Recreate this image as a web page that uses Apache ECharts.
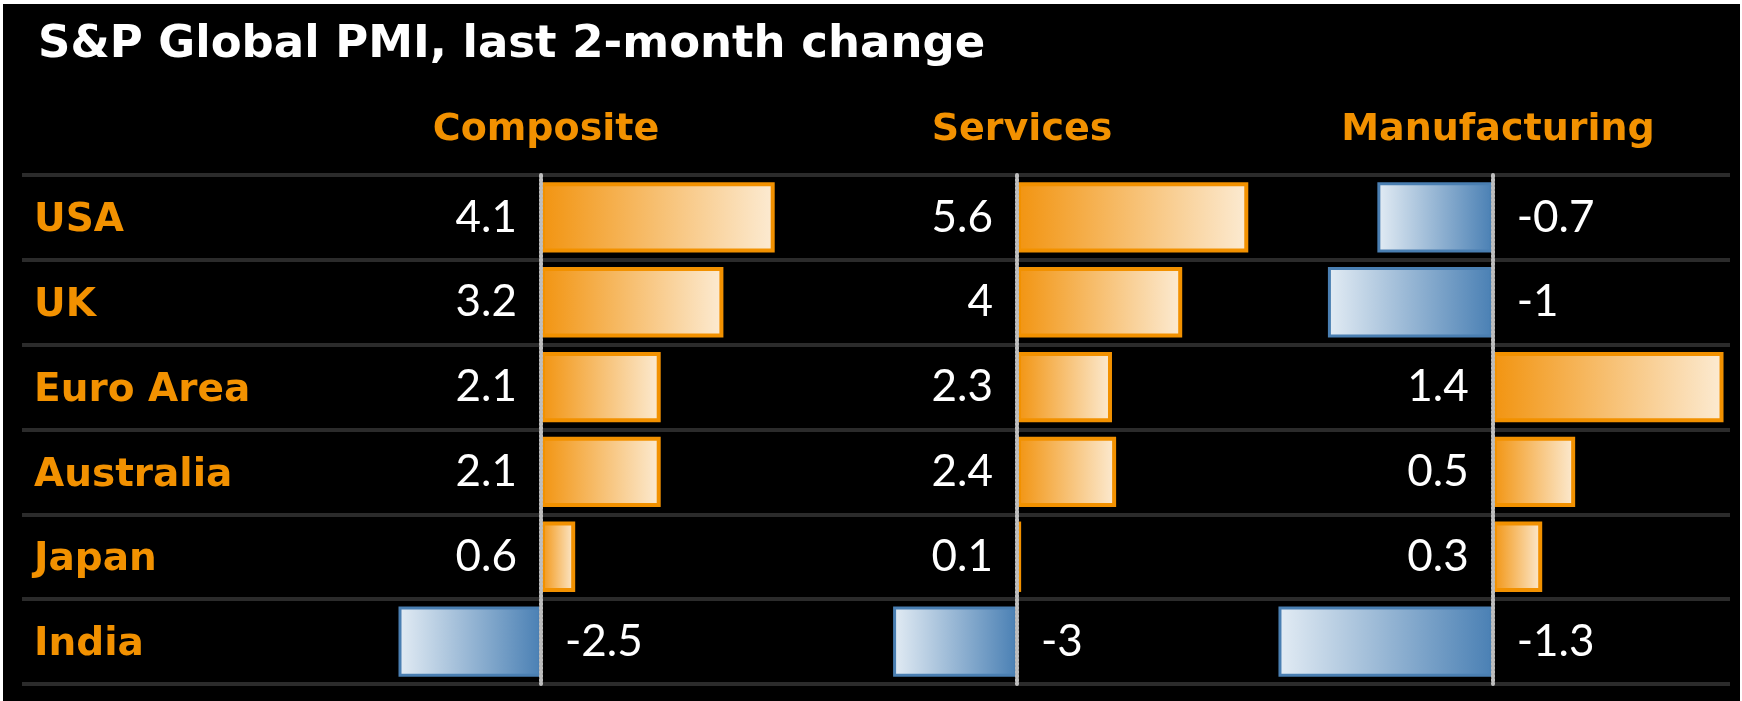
<!DOCTYPE html>
<html>
<head>
<meta charset="utf-8">
<script src="https://cdn.jsdelivr.net/npm/echarts@6/dist/echarts.min.js"></script>
<style>
  html, body { margin: 0; padding: 0; background: #fff; }
  #chart { position: absolute; left: 3px; top: 4px; width: 1737px; height: 697px; }
</style>
</head>
<body>
<div id="chart"></div>
<script>
const countries = ['USA', 'UK', 'Euro Area', 'Australia', 'Japan', 'India']
const composite = [4.1, 3.2, 2.1, 2.1, 0.6, -2.5]
const services = [5.6, 4, 2.3, 2.4, 0.1, -3]
const manufacturing = [-0.7, -1, 1.4, 0.5, 0.3, -1.3]
const panelNames = ['Composite', 'Services', 'Manufacturing']

const ORANGE = '#F29100'
const HEAD_FONT = 'DejaVu Sans'
const NUM_FONT = 'Lato'

// panel layout: pixel of zero line, pixels per unit, axis range
const panels = [
    { zero: 538, unit: 57, min: -3, max: 5, data: composite },
    { zero: 1014, unit: 41.3, min: -4, max: 6, data: services },
    { zero: 1490, unit: 165, min: -1.5, max: 1.5, data: manufacturing }
]
const gridTop = 171
const gridHeight = 509

const posStyle = {
    color: new echarts.graphic.LinearGradient(0, 0, 1, 0, [
        { offset: 0, color: '#F29410' },
        { offset: 1, color: '#FCEBD3' }
    ]),
    borderColor: ORANGE,
    borderWidth: 4
}
const negStyle = {
    color: new echarts.graphic.LinearGradient(0, 0, 1, 0, [
        { offset: 0, color: '#E3ECF4' },
        { offset: 1, color: '#4A80B4' }
    ]),
    borderColor: '#4A7FB2',
    borderWidth: 3
}

const chart = echarts.init(document.getElementById('chart'))

let grids = [{ left: 19, width: 1708, top: gridTop, height: gridHeight }]
let xAxes = [{ gridIndex: 0, type: 'value', show: false }]
let yAxes = [{
    gridIndex: 0,
    type: 'category',
    inverse: true,
    data: countries,
    axisLine: { show: false },
    axisTick: { show: false },
    splitLine: { show: true, lineStyle: { color: '#2b2b2b', width: 4 } },
    axisLabel: {
        align: 'left',
        margin: -12,
        formatter: v => '{c|' + v + '}',
        rich: {
            c: {
                padding: [7, 0, 0, 0],
                color: ORANGE,
                fontFamily: HEAD_FONT,
                fontWeight: 'bold',
                fontSize: 39
            }
        }
    }
}]
let series = []
let titles = [{
    text: 'S&P Global PMI, last 2-month change',
    left: 30,
    top: 14,
    textStyle: { color: '#fff', fontFamily: HEAD_FONT, fontWeight: 'bold', fontSize: 45 }
}]

panels.forEach((p, i) => {
    const gi = i + 1
    grids.push({
        left: p.zero + p.min * p.unit,
        width: (p.max - p.min) * p.unit,
        top: gridTop,
        height: gridHeight
    })
    xAxes.push({ gridIndex: gi, type: 'value', min: p.min, max: p.max, show: false })
    yAxes.push({
        gridIndex: gi,
        type: 'category',
        inverse: true,
        data: countries,
        axisLabel: { show: false },
        axisTick: { show: false },
        splitLine: { show: false },
        axisLine: {
            show: true,
            onZero: true,
            lineStyle: { color: '#bdbdbd', width: 4, type: [2, 2] }
        },
        z: 5
    })
    series.push({
        type: 'bar',
        xAxisIndex: gi,
        yAxisIndex: gi,
        barWidth: '83%',
        data: p.data.map(v => ({
            value: v,
            itemStyle: v >= 0 ? posStyle : negStyle,
            label: { position: v >= 0 ? 'left' : 'right' }
        })),
        label: {
            show: true,
            distance: 24,
            color: '#fff',
            fontFamily: NUM_FONT,
            fontWeight: 'normal',
            fontSize: 44,
            formatter: '{c}'
        }
    })
    titles.push({
        text: panelNames[i],
        left: p.zero,
        textAlign: 'center',
        top: 102,
        textStyle: { color: ORANGE, fontFamily: HEAD_FONT, fontWeight: 'bold', fontSize: 38 }
    })
})

chart.setOption({
    backgroundColor: '#000',
    animation: false,
    title: titles,
    grid: grids,
    xAxis: xAxes,
    yAxis: yAxes,
    series: series
})
</script>
</body>
</html>
